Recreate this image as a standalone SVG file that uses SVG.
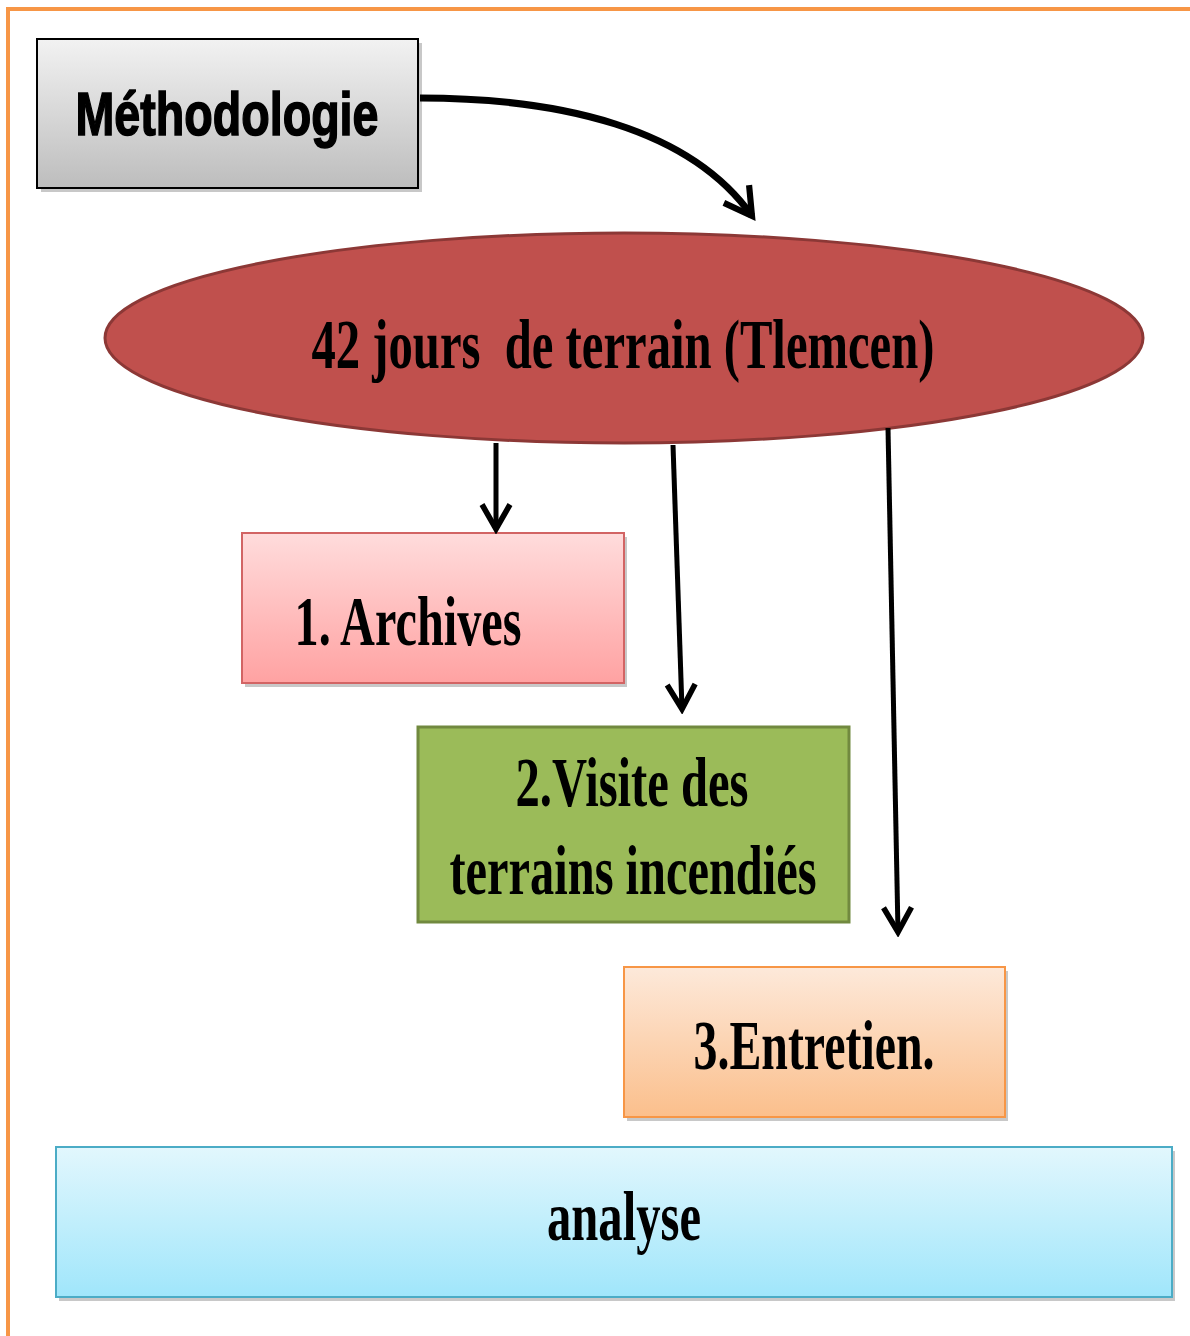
<svg xmlns="http://www.w3.org/2000/svg" width="1190" height="1336" viewBox="0 0 1190 1336">
<style>
.lbl{font-family:"Liberation Serif","Times New Roman",serif;font-weight:bold;fill:#000}
.sans{font-family:"Liberation Sans",Arial,sans-serif;font-weight:bold;fill:#000;stroke:#000;stroke-width:1.6}
.shadow{fill:#9a9a9a;opacity:0.55}
.conn{fill:none;stroke:#000;stroke-width:5}
.curve{fill:none;stroke:#000;stroke-width:7}
</style>
<defs>
<linearGradient id="gGray" x1="0" y1="0" x2="0" y2="1"><stop offset="0" stop-color="#f2f2f2"/><stop offset="1" stop-color="#bdbdbd"/></linearGradient>
<linearGradient id="gPink" x1="0" y1="0" x2="0" y2="1"><stop offset="0" stop-color="#ffdcdc"/><stop offset="1" stop-color="#ffa2a2"/></linearGradient>
<linearGradient id="gOrange" x1="0" y1="0" x2="0" y2="1"><stop offset="0" stop-color="#fde9da"/><stop offset="1" stop-color="#fbbf8c"/></linearGradient>
<linearGradient id="gBlue" x1="0" y1="0" x2="0" y2="1"><stop offset="0" stop-color="#e2f7fd"/><stop offset="1" stop-color="#a0e6fb"/></linearGradient>
<marker id="arr" viewBox="0 0 20 20" refX="17" refY="10" markerWidth="7" markerHeight="7" markerUnits="strokeWidth" orient="auto">
<path d="M3,2 L17,10 L3,18" fill="none" stroke="#000" stroke-width="3.2" stroke-linejoin="miter"/>
</marker>
<marker id="arrC" viewBox="0 0 20 20" refX="17" refY="10" markerWidth="5.5" markerHeight="5.5" markerUnits="strokeWidth" orient="auto">
<path d="M3,2 L17,10 L3,18" fill="none" stroke="#000" stroke-width="3.2" stroke-linejoin="miter"/>
</marker>
</defs>
<rect x="0" y="0" width="1190" height="1336" fill="#fff"/>
<rect x="8" y="9" width="1200" height="1360" fill="none" stroke="#f79646" stroke-width="4"/>

<g id="methodologie">
<rect class="shadow" x="41" y="43" width="381" height="149"/>
<rect x="37" y="39" width="381" height="149" fill="url(#gGray)" stroke="#000" stroke-width="2"/>
<text class="sans" x="227" y="135" font-size="62" text-anchor="middle" textLength="303" lengthAdjust="spacingAndGlyphs">Méthodologie</text>
</g>

<g id="terrain">
<ellipse cx="624" cy="338" rx="519" ry="105" fill="#c0504d" stroke="#8c3836" stroke-width="3"/>
<text class="lbl" x="623" y="368" font-size="70" text-anchor="middle" textLength="623" lengthAdjust="spacingAndGlyphs" xml:space="preserve">42 jours  de terrain (Tlemcen)</text>
</g>

<g id="archives">
<rect class="shadow" x="245" y="537" width="382" height="150"/>
<rect x="242" y="533" width="382" height="150" fill="url(#gPink)" stroke="#d26464" stroke-width="2"/>
<text class="lbl" x="408" y="645" font-size="70" text-anchor="middle" textLength="227" lengthAdjust="spacingAndGlyphs">1. Archives</text>
</g>

<g id="visite">
<rect x="418" y="727" width="431" height="195" fill="#9bbb59" stroke="#71893f" stroke-width="3"/>
<text class="lbl" x="632" y="806" font-size="70" text-anchor="middle" textLength="233" lengthAdjust="spacingAndGlyphs">2.Visite des</text>
<text class="lbl" x="633" y="894" font-size="70" text-anchor="middle" textLength="367" lengthAdjust="spacingAndGlyphs">terrains incendiés</text>
</g>

<g id="entretien">
<rect class="shadow" x="627" y="971" width="381" height="150"/>
<rect x="624" y="967" width="381" height="150" fill="url(#gOrange)" stroke="#f79646" stroke-width="2"/>
<text class="lbl" x="814" y="1069" font-size="70" text-anchor="middle" textLength="241" lengthAdjust="spacingAndGlyphs">3.Entretien.</text>
</g>

<g id="analyse">
<rect class="shadow" x="59" y="1151" width="1116" height="150"/>
<rect x="56" y="1147" width="1116" height="150" fill="url(#gBlue)" stroke="#4bacc6" stroke-width="2"/>
<text class="lbl" x="624" y="1240" font-size="70" text-anchor="middle" textLength="154" lengthAdjust="spacingAndGlyphs">analyse</text>
</g>

<g id="connectors">
<path class="curve" d="M420,98 C560,98 690,128 752,216" marker-end="url(#arrC)"/>
<path class="conn" d="M496,443 L496,529" marker-end="url(#arr)"/>
<path class="conn" d="M673,445 L682,709" marker-end="url(#arr)"/>
<path class="conn" d="M888,428 L898,932" marker-end="url(#arr)"/>
</g>
</svg>
